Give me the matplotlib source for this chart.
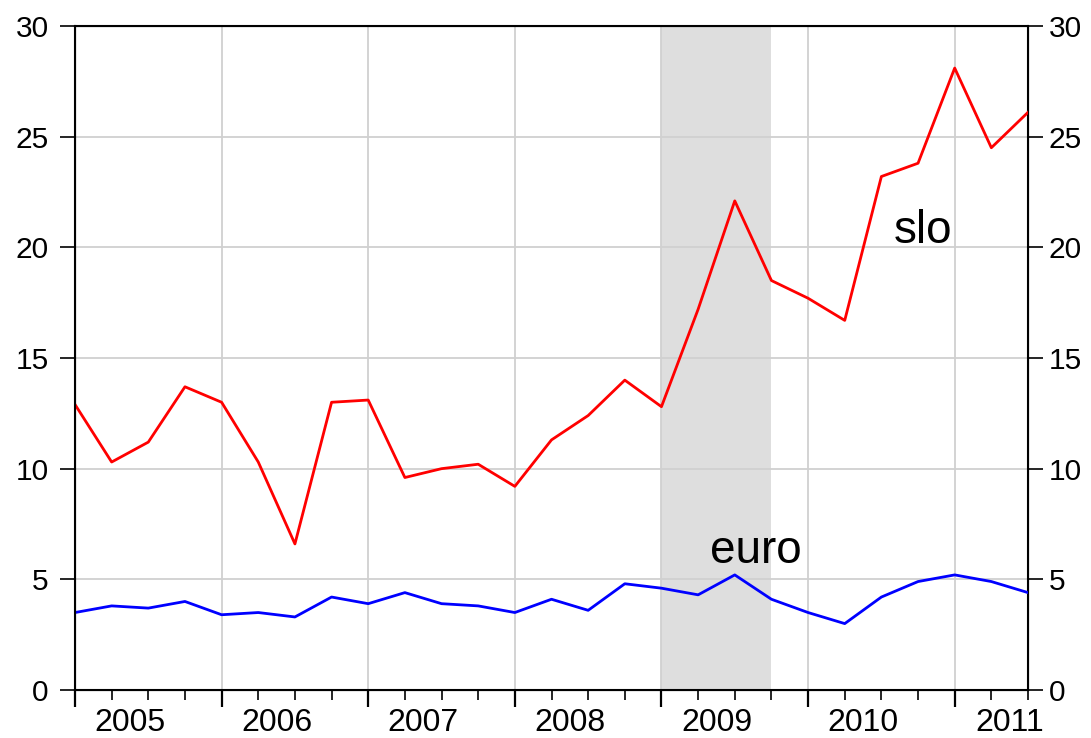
import numpy as np
import matplotlib
matplotlib.use("Agg")
import matplotlib.pyplot as plt
import matplotlib.transforms as mtransforms

plt.rcParams['font.family'] = ['Liberation Sans', 'DejaVu Sans']

# quarterly data 2005Q1 - 2011Q3
years = ["2005", "2006", "2007", "2008", "2009", "2010", "2011"]
slo = [12.9, 10.3, 11.2, 13.7, 13.0, 10.3, 6.6, 13.0,
       13.1, 9.6, 10.0, 10.2, 9.2, 11.3, 12.4, 14.0,
       12.8, 17.2, 22.1, 18.5, 17.7, 16.7, 23.2, 23.8,
       28.1, 24.5, 26.1]
euro = [3.5, 3.8, 3.7, 4.0, 3.4, 3.5, 3.3, 4.2,
        3.9, 4.4, 3.9, 3.8, 3.5, 4.1, 3.6, 4.8,
        4.6, 4.3, 5.2, 4.1, 3.5, 3.0, 4.2, 4.9,
        5.2, 4.9, 4.4]
yticks = [0, 5, 10, 15, 20, 25, 30]
shade_start, shade_end = 16, 19  # 2009Q1 - 2009Q4

x = np.arange(len(slo))

fig = plt.figure(figsize=(10.91, 7.38), dpi=100)
ax = fig.add_axes([75/1091, 1 - 690/738, (1028 - 75)/1091, (690 - 26)/738])

ax.axvspan(shade_start, shade_end, color="#dedede", lw=0, zorder=0)

# grid
for v in yticks[1:-1]:
    ax.axhline(v, color="#d0d0d0", lw=1.3, zorder=1)
for i in range(4, len(slo), 4):
    ax.axvline(i, color="#d0d0d0", lw=1.3, zorder=1)

ax.plot(x, slo, color="#ff0000", lw=2.0, zorder=3)
ax.plot(x, euro, color="#0000ff", lw=2.0, zorder=3)

ax.text(18.58, 5.75, "euro", fontsize=33, ha="center", va="baseline", zorder=4)
ax.text(23.14, 20.2, "slo", fontsize=33, ha="center", va="baseline", zorder=4)

ax.set_xlim(0, len(slo) - 1)
ax.set_ylim(0, 30)

for s in ax.spines.values():
    s.set_linewidth(1.5)
    s.set_color("black")

ax.set_yticks(yticks)
ax.tick_params(axis="y", direction="out", length=11, width=1.2,
               labelsize=21.5, pad=8)

ax2 = ax.twinx()
ax2.set_ylim(0, 30)
ax2.set_yticks(yticks)
ax2.tick_params(axis="y", direction="out", length=11, width=1.2,
                labelsize=21.5, pad=4)
for a in (ax, ax2):
    for lbl in a.get_yticklabels():
        lbl.set_verticalalignment("center_baseline")

ax.set_xticks(np.arange(0, len(slo), 4))
ax.set_xticks(np.arange(0, len(slo)), minor=True)
ax.set_xticklabels([])
ax.tick_params(axis="x", which="major", direction="out", length=12, width=1.6)
ax.tick_params(axis="x", which="minor", direction="out", length=7, width=1.2)

trans = mtransforms.blended_transform_factory(ax.transData, ax.transAxes)
for k, yr in enumerate(years):
    ax.text(4 * k + 1.5, -0.062, yr, transform=trans, fontsize=23,
            ha="center", va="baseline", clip_on=False)

fig.savefig("out.png", dpi=100)
